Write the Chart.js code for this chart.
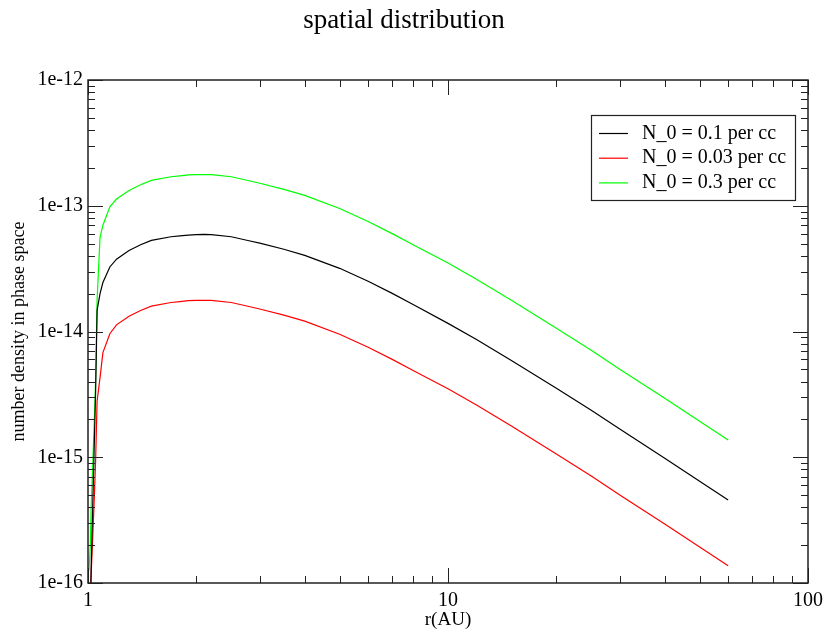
<!DOCTYPE html>
<html>
<head>
<meta charset="utf-8">
<title>spatial distribution</title>
<script src="https://cdn.jsdelivr.net/npm/chart.js@4.4.1/dist/chart.umd.min.js"></script>
<style>
  html, body { margin: 0; padding: 0; background: #fff; }
  #wrap { width: 825px; height: 633px; }
</style>
</head>
<body>
<div id="wrap"><canvas id="chart"></canvas></div>
<script>
// heliocentric distance, AU
const radii = [1.005, 1.01, 1.015, 1.02, 1.03, 1.04, 1.05, 1.06, 1.08, 1.1, 1.15, 1.2, 1.3, 1.4, 1.5,
  1.7, 1.8, 1.9, 2.0, 2.1, 2.2, 2.5, 2.8, 3, 3.5, 4, 5, 6, 7, 8, 10, 12, 15, 20, 25, 30, 40, 50, 60];

// number density in phase space for each N_0
const densityN01 = [1.0e-17, 2.5e-17, 5.0e-17, 1.26e-16, 3.8e-16, 1.13e-15, 3.4e-15, 1.48e-14, 2.0e-14, 2.45e-14,
  3.26e-14, 3.76e-14, 4.41e-14, 4.9e-14, 5.3e-14,
  5.67e-14, 5.77e-14, 5.85e-14, 5.9e-14, 5.91e-14, 5.9e-14, 5.67e-14, 5.27e-14, 5.04e-14, 4.51e-14, 4.03e-14,
  3.18e-14, 2.51e-14, 2.01e-14, 1.64e-14, 1.16e-14, 8.65e-15, 5.89e-15, 3.54e-15, 2.36e-15, 1.68e-15,
  9.8e-16, 6.44e-16, 4.57e-16];
const densityN003 = [5.0e-18, 1.5e-17, 7.0e-17, 1.15e-16, 2.2e-16, 4.4e-16, 9.5e-16, 2.8e-15, 4.3e-15, 6.8e-15,
  9.6e-15, 1.13e-14, 1.32e-14, 1.47e-14, 1.59e-14,
  1.7e-14, 1.73e-14, 1.76e-14, 1.77e-14, 1.77e-14, 1.77e-14, 1.7e-14, 1.58e-14, 1.51e-14, 1.35e-14, 1.21e-14,
  9.5e-15, 7.5e-15, 6.0e-15, 4.9e-15, 3.5e-15, 2.6e-15, 1.77e-15, 1.06e-15, 7.1e-16, 5.0e-16,
  2.94e-16, 1.93e-16, 1.37e-16];
const densityN03 = [1.25e-16, 1.5e-16, 2.0e-16, 3.8e-16, 8.2e-16, 1.8e-15, 4.1e-15, 1.8e-14, 5.6e-14, 7.0e-14,
  9.8e-14, 1.13e-13, 1.32e-13, 1.47e-13, 1.59e-13,
  1.7e-13, 1.73e-13, 1.76e-13, 1.77e-13, 1.77e-13, 1.77e-13, 1.7e-13, 1.58e-13, 1.51e-13, 1.35e-13, 1.21e-13,
  9.5e-14, 7.5e-14, 6.0e-14, 4.9e-14, 3.5e-14, 2.6e-14, 1.77e-14, 1.06e-14, 7.1e-15, 5.0e-15,
  2.94e-15, 1.93e-15, 1.37e-15];

const seriesLabels = ['N_0 = 0.1 per cc', 'N_0 = 0.03 per cc', 'N_0 = 0.3 per cc'];
const seriesColors = ['#000000', '#ff0000', '#00ff00'];
const seriesValues = [densityN01, densityN003, densityN03];

const xTicks = [1, 10, 100];
const xTickLabels = ['1', '10', '100'];
const yTicks = [1e-16, 1e-15, 1e-14, 1e-13, 1e-12];
const yTickLabels = ['1e-16', '1e-15', '1e-14', '1e-13', '1e-12'];
const minorSteps = [2, 3, 4, 5, 6, 7, 8, 9];

const SERIF = "'Liberation Serif', 'Times New Roman', serif";

// minor tick values between consecutive major ticks
function minorsOf(majors) {
  const out = [];
  for (let i = 0; i < majors.length - 1; i++) {
    minorSteps.forEach(m => out.push(majors[i] * m));
  }
  return out;
}

// inward tick marks on all four sides plus the frame
const frameTicks = {
  id: 'frameTicks',
  afterDatasetsDraw(chart) {
    const { ctx, chartArea: a, scales: { x, y } } = chart;
    ctx.save();
    ctx.strokeStyle = '#222';
    ctx.lineWidth = 1;
    const xMark = (v, len) => {
      const px = Math.round(x.getPixelForValue(v)) + 0.5;
      ctx.beginPath();
      ctx.moveTo(px, a.bottom); ctx.lineTo(px, a.bottom - len);
      ctx.moveTo(px, a.top); ctx.lineTo(px, a.top + len);
      ctx.stroke();
    };
    const yMark = (v, len) => {
      const py = Math.round(y.getPixelForValue(v)) + 0.5;
      ctx.beginPath();
      ctx.moveTo(a.left, py); ctx.lineTo(a.left + len, py);
      ctx.moveTo(a.right, py); ctx.lineTo(a.right - len, py);
      ctx.stroke();
    };
    xTicks.forEach(v => xMark(v, 15));
    minorsOf(xTicks).forEach(v => xMark(v, 7));
    yTicks.forEach(v => yMark(v, 15));
    minorsOf(yTicks).forEach(v => yMark(v, 7));

    ctx.lineWidth = 1.5;
    ctx.strokeRect(a.left, a.top, a.right - a.left, a.bottom - a.top);
    ctx.restore();
  }
};

// boxed legend in the upper right of the plot
const boxLegend = {
  id: 'boxLegend',
  afterDraw(chart) {
    const { ctx, chartArea: a } = chart;
    const left = a.right - 217, top = a.top + 35, w = 204, h = 85;
    ctx.save();
    ctx.fillStyle = '#fff';
    ctx.fillRect(left, top, w, h);
    ctx.strokeStyle = '#222';
    ctx.lineWidth = 1.2;
    ctx.strokeRect(left + 0.5, top + 0.5, w, h);
    ctx.font = '20px ' + SERIF;
    ctx.textBaseline = 'middle';
    chart.data.datasets.forEach((ds, i) => {
      const rowY = top + 18.5 + i * 24.7;
      ctx.strokeStyle = ds.borderColor;
      ctx.lineWidth = 1.2;
      ctx.beginPath();
      ctx.moveTo(left + 8, rowY);
      ctx.lineTo(left + 37, rowY);
      ctx.stroke();
      ctx.fillStyle = '#000';
      ctx.fillText(ds.label, left + 51, rowY);
    });
    ctx.restore();
  }
};

const datasets = seriesLabels.map((label, i) => ({
  label,
  data: radii.map((r, j) => ({ x: r, y: seriesValues[i][j] })),
  borderColor: seriesColors[i],
  borderWidth: 1.2,
  pointRadius: 0,
  tension: 0,
  fill: false
}));

new Chart(document.getElementById('chart'), {
  type: 'line',
  data: { datasets },
  options: {
    responsive: true,
    maintainAspectRatio: false,
    animation: false,
    layout: { padding: { left: 0, right: 17, top: 0, bottom: 0 } },
    plugins: {
      legend: { display: false },
      tooltip: { enabled: false },
      title: {
        display: true,
        text: 'spatial distribution',
        color: '#000',
        font: { family: SERIF, size: 27, weight: 'normal' },
        padding: { top: 5, bottom: 42.6 }
      }
    },
    scales: {
      x: {
        type: 'logarithmic',
        min: 1,
        max: 100,
        afterBuildTicks: s => { s.ticks = xTicks.map(v => ({ value: v })); },
        afterFit: s => { s.height = 50; s.paddingLeft = 0; s.paddingRight = 0; },
        grid: { display: false, drawTicks: false },
        border: { display: false },
        ticks: {
          autoSkip: false,
          maxRotation: 0,
          padding: 6,
          color: '#000',
          font: { family: SERIF, size: 20 },
          callback: (v, i) => xTickLabels[i]
        },
        title: {
          display: true,
          text: 'r(AU)',
          color: '#000',
          font: { family: SERIF, size: 19 },
          padding: { top: 0, bottom: 2 }
        }
      },
      y: {
        type: 'logarithmic',
        min: 1e-16,
        max: 1e-12,
        afterBuildTicks: s => { s.ticks = yTicks.map(v => ({ value: v })); },
        afterFit: s => { s.width = 88; s.paddingTop = 0; s.paddingBottom = 0; },
        grid: { display: false, drawTicks: false },
        border: { display: false },
        ticks: {
          autoSkip: false,
          padding: 5,
          color: '#000',
          font: { family: SERIF, size: 20 },
          callback: (v, i) => yTickLabels[i]
        },
        title: {
          display: true,
          text: 'number density in phase space',
          color: '#000',
          font: { family: SERIF, size: 18 },
          padding: { top: 8, bottom: 0 }
        }
      }
    }
  },
  plugins: [frameTicks, boxLegend]
});
</script>
</body>
</html>
